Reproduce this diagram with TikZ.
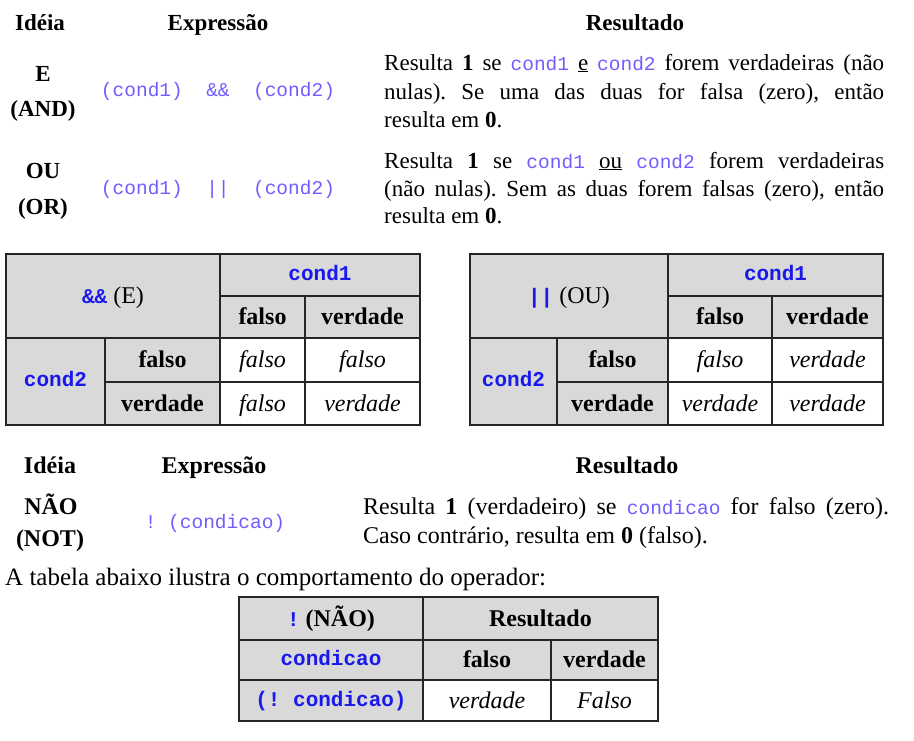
\documentclass[tikz,border=0pt]{standalone}
\usepackage{fontspec}
\setmainfont{Liberation Serif}
\setmonofont{Liberation Mono}
\usetikzlibrary{positioning}
\definecolor{codelila}{RGB}{112,92,255}
\definecolor{codeblue}{RGB}{25,25,235}
\definecolor{cellgray}{RGB}{217,217,217}
\frenchspacing
\newcommand{\txtsize}{\fontsize{23pt}{28pt}\selectfont}
\newcommand{\tabsize}{\fontsize{24pt}{28pt}\selectfont}
\newcommand{\cod}[1]{{\fontsize{19.5pt}{22pt}\selectfont\ttfamily\color{codelila}#1}}
\newcommand{\tcod}[1]{{\fontsize{21pt}{22pt}\selectfont\ttfamily\bfseries\color{codeblue}#1}}
\newcommand{\jline}[2]{\makebox[#1pt][s]{#2}}

\begin{document}
\begin{tikzpicture}
[x=1pt,y=-1pt,
 txt/.style={inner sep=0pt,font=\txtsize,anchor=base},
 hdr/.style={inner sep=0pt,font=\txtsize\bfseries,anchor=base},
 cell/.style={inner sep=0pt,font=\tabsize,text height=17.5pt,text depth=2.5pt},
 hcell/.style={cell,font=\tabsize\bfseries},
 dcell/.style={cell,font=\tabsize\itshape},
 tabline/.style={draw=black!85,line width=1.3pt},]
\useasboundingbox (0,0) rectangle (914,740);

% E / OU
\node[hdr] (idea1) at (40,30) {Idéia};
\node[hdr] (expr1) at (218,30) {Expressão};
\node[hdr] (res1) at (635,30) {Resultado};
\node[hdr] (and1) at (43,81) {E};
\node[hdr] (and2) at (43,116) {(AND)};
\node[txt] (andc) at (218,96) {\cod{(cond1)~~\&\&~~(cond2)}};
\node[txt,anchor=base west] (andr1) at (384,70) {\jline{500}{Resulta \textbf{1} se \cod{cond1} \underline{e} \cod{cond2} forem verdadeiras (não}};
\node[txt,anchor=base west] (andr2) at (384,99) {\jline{500}{nulas). Se uma das duas for falsa (zero), então}};
\node[txt,anchor=base west] (andr3) at (384,127) {resulta em \textbf{0}.};
\node[hdr] (or1) at (43,178) {OU};
\node[hdr] (or2) at (43,214) {(OR)};
\node[txt] (orc) at (218,194) {\cod{(cond1)~~||~~(cond2)}};
\node[txt,anchor=base west] (orr1) at (384,168) {\jline{500}{Resulta \textbf{1} se \cod{cond1} \underline{ou} \cod{cond2} forem verdadeiras}};
\node[txt,anchor=base west] (orr2) at (384,196) {\jline{500}{(não nulas). Sem as duas forem falsas (zero), então}};
\node[txt,anchor=base west] (orr3) at (384,223) {resulta em \textbf{0}.};

% tabela &&
\fill[cellgray] (6,254) rectangle (420,338);
\fill[cellgray] (6,338) rectangle (220,425);
\draw[tabline] (6,254) rectangle (420,425);
\draw[tabline] (220,254) -- (220,425);
\draw[tabline] (220,296) -- (420,296);
\draw[tabline] (305,296) -- (305,425);
\draw[tabline] (6,338) -- (420,338);
\draw[tabline] (105,338) -- (105,425);
\draw[tabline] (105,382) -- (420,382);
\node[cell] (andop) at (113,296) {\tcod{\&\&} (E)};
\node[cell] (andc1) at (320,273) {\tcod{cond1}};
\node[hcell] (andf1) at (262.5,317) {falso};
\node[hcell] (andv1) at (362.5,317) {verdade};
\node[cell] (andc2) at (55.5,379) {\tcod{cond2}};
\node[hcell] (andf2) at (162.5,360) {falso};
\node[hcell] (andv2) at (162.5,403.5) {verdade};
\node[dcell] (andff) at (262.5,360) {falso};
\node[dcell] (andvf) at (362.5,360) {falso};
\node[dcell] (andfv) at (262.5,403.5) {falso};
\node[dcell] (andvv) at (362.5,403.5) {verdade};

% tabela ||
\fill[cellgray] (470,254) rectangle (883,338);
\fill[cellgray] (470,338) rectangle (668,425);
\draw[tabline] (470,254) rectangle (883,425);
\draw[tabline] (668,254) -- (668,425);
\draw[tabline] (668,296) -- (883,296);
\draw[tabline] (772,296) -- (772,425);
\draw[tabline] (470,338) -- (883,338);
\draw[tabline] (557,338) -- (557,425);
\draw[tabline] (557,382) -- (883,382);
\node[cell] (orop) at (569,296) {\tcod{||} (OU)};
\node[cell] (orc1) at (775.5,273) {\tcod{cond1}};
\node[hcell] (orf1) at (720,317) {falso};
\node[hcell] (orv1) at (827.5,317) {verdade};
\node[cell] (orc2) at (513.5,379) {\tcod{cond2}};
\node[hcell] (orf2) at (612.5,360) {falso};
\node[hcell] (orv2) at (612.5,403.5) {verdade};
\node[dcell] (orff) at (720,360) {falso};
\node[dcell] (orvf) at (827.5,360) {verdade};
\node[dcell] (orfv) at (720,403.5) {verdade};
\node[dcell] (orvv) at (827.5,403.5) {verdade};

% NAO
\node[hdr,font=\tabsize\bfseries] (idea2) at (50,473) {Idéia};
\node[hdr,font=\tabsize\bfseries] (expr2) at (214,473) {Expressão};
\node[hdr,font=\tabsize\bfseries] (res2) at (627,473) {Resultado};
\node[hdr,font=\tabsize\bfseries] (not1) at (51,514) {NÃO};
\node[hdr,font=\tabsize\bfseries] (not2) at (50,546) {(NOT)};
\node[txt] (notc) at (215,528) {\cod{!~(condicao)}};
\node[txt,font=\tabsize,anchor=base west] (notr1) at (363,514) {\jline{526}{Resulta \textbf{1} (verdadeiro) se \cod{condicao} for falso (zero).}};
\node[txt,font=\tabsize,anchor=base west] (notr2) at (363,543) {Caso contrário, resulta em \textbf{0} (falso).};
\node[txt,font=\fontsize{25pt}{28pt}\selectfont,anchor=base west] (intro) at (5,585) {A tabela abaixo ilustra o comportamento do operador:};

% tabela !
\fill[cellgray] (239,597) rectangle (658,680);
\fill[cellgray] (239,680) rectangle (423,721);
\draw[tabline] (239,597) rectangle (658,721);
\draw[tabline] (423,597) -- (423,721);
\draw[tabline] (239,640) -- (658,640);
\draw[tabline] (239,680) -- (658,680);
\draw[tabline] (551,640) -- (551,721);
\node[hcell] (notop) at (331,618.5) {\tcod{!} (NÃO)};
\node[hcell] (notres) at (540.5,618.5) {Resultado};
\node[cell] (notcd) at (331,658) {\tcod{condicao}};
\node[hcell] (notf) at (487,660) {falso};
\node[hcell] (notv) at (604.5,660) {verdade};
\node[cell] (notnc) at (331,698.5) {\tcod{(!~condicao)}};
\node[dcell] (notfv) at (487,700.5) {verdade};
\node[dcell] (notvf) at (604.5,700.5) {Falso};
\end{tikzpicture}
\end{document}
